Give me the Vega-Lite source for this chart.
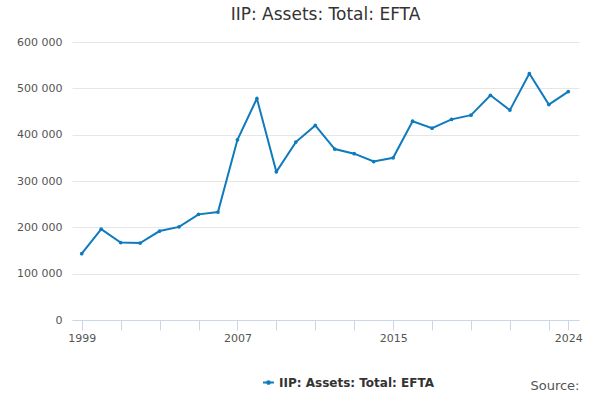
{
  "$schema": "https://vega.github.io/schema/vega-lite/v6.json",
  "width": 507,
  "height": 278,
  "padding": {"left": 16, "top": 6, "right": 12, "bottom": 4},
  "title": {"text": "IIP: Assets: Total: EFTA", "fontSize": 17, "fontWeight": "normal", "font": "DejaVu Sans", "color": "#333", "offset": 12},
  "data": {"values": [
    {"year": 1999, "v": 143000}, {"year": 2000, "v": 196000}, {"year": 2001, "v": 167000},
    {"year": 2002, "v": 166000}, {"year": 2003, "v": 192000}, {"year": 2004, "v": 201000},
    {"year": 2005, "v": 228000}, {"year": 2006, "v": 233000}, {"year": 2007, "v": 389000},
    {"year": 2008, "v": 478000}, {"year": 2009, "v": 320000}, {"year": 2010, "v": 384000},
    {"year": 2011, "v": 420000}, {"year": 2012, "v": 369000}, {"year": 2013, "v": 359000},
    {"year": 2014, "v": 342000}, {"year": 2015, "v": 350000}, {"year": 2016, "v": 429000},
    {"year": 2017, "v": 414000}, {"year": 2018, "v": 433000}, {"year": 2019, "v": 442000},
    {"year": 2020, "v": 485000}, {"year": 2021, "v": 453000}, {"year": 2022, "v": 532000},
    {"year": 2023, "v": 465000}, {"year": 2024, "v": 493000}
  ]},
  "transform": [{"calculate": "'IIP: Assets: Total: EFTA'", "as": "series"}],
  "mark": {"type": "line", "strokeWidth": 2, "point": {"size": 14, "filled": true}},
  "encoding": {
    "x": {
      "field": "year", "type": "quantitative",
      "scale": {"domain": [1998.5, 2024.55], "nice": false, "zero": false},
      "axis": {
        "values": [1999, 2001, 2003, 2005, 2007, 2009, 2011, 2013, 2015, 2017, 2019, 2021, 2023, 2024],
        "labelExpr": "indexof([1999, 2007, 2015, 2024], datum.value) >= 0 ? datum.value : ''",
        "grid": false, "tickSize": 10, "tickColor": "#ccd6eb", "domainColor": "#ccd6eb",
        "labelColor": "#555", "labelFontSize": 11, "labelPadding": 2,
        "title": "Source:", "titleAnchor": "end", "titleFontWeight": "normal",
        "titleFontSize": 13, "titleColor": "#555", "titlePadding": 36
      }
    },
    "y": {
      "field": "v", "type": "quantitative",
      "scale": {"domain": [0, 600000], "nice": false},
      "axis": {
        "values": [0, 100000, 200000, 300000, 400000, 500000, 600000],
        "labelExpr": "replace(format(datum.value, ','), /,/g, ' ')",
        "title": null, "domain": false, "ticks": false, "gridColor": "#e6e6e6",
        "labelColor": "#555", "labelFontSize": 11, "labelPadding": 10
      }
    },
    "color": {
      "field": "series", "type": "nominal",
      "scale": {"range": ["#0f7bbd"]},
      "legend": {
        "orient": "none", "legendX": 190, "legendY": 334, "title": null, "direction": "horizontal",
        "labelFontSize": 12, "labelFontWeight": "bold", "labelColor": "#333",
        "symbolType": "M-1,0L1,0M-0.25,0a0.25,0.25 0 1,0 0.5,0a0.25,0.25 0 1,0 -0.5,0",
        "symbolStrokeWidth": 2, "symbolSize": 120
      }
    }
  },
  "config": {"font": "DejaVu Sans", "view": {"stroke": null}}
}
